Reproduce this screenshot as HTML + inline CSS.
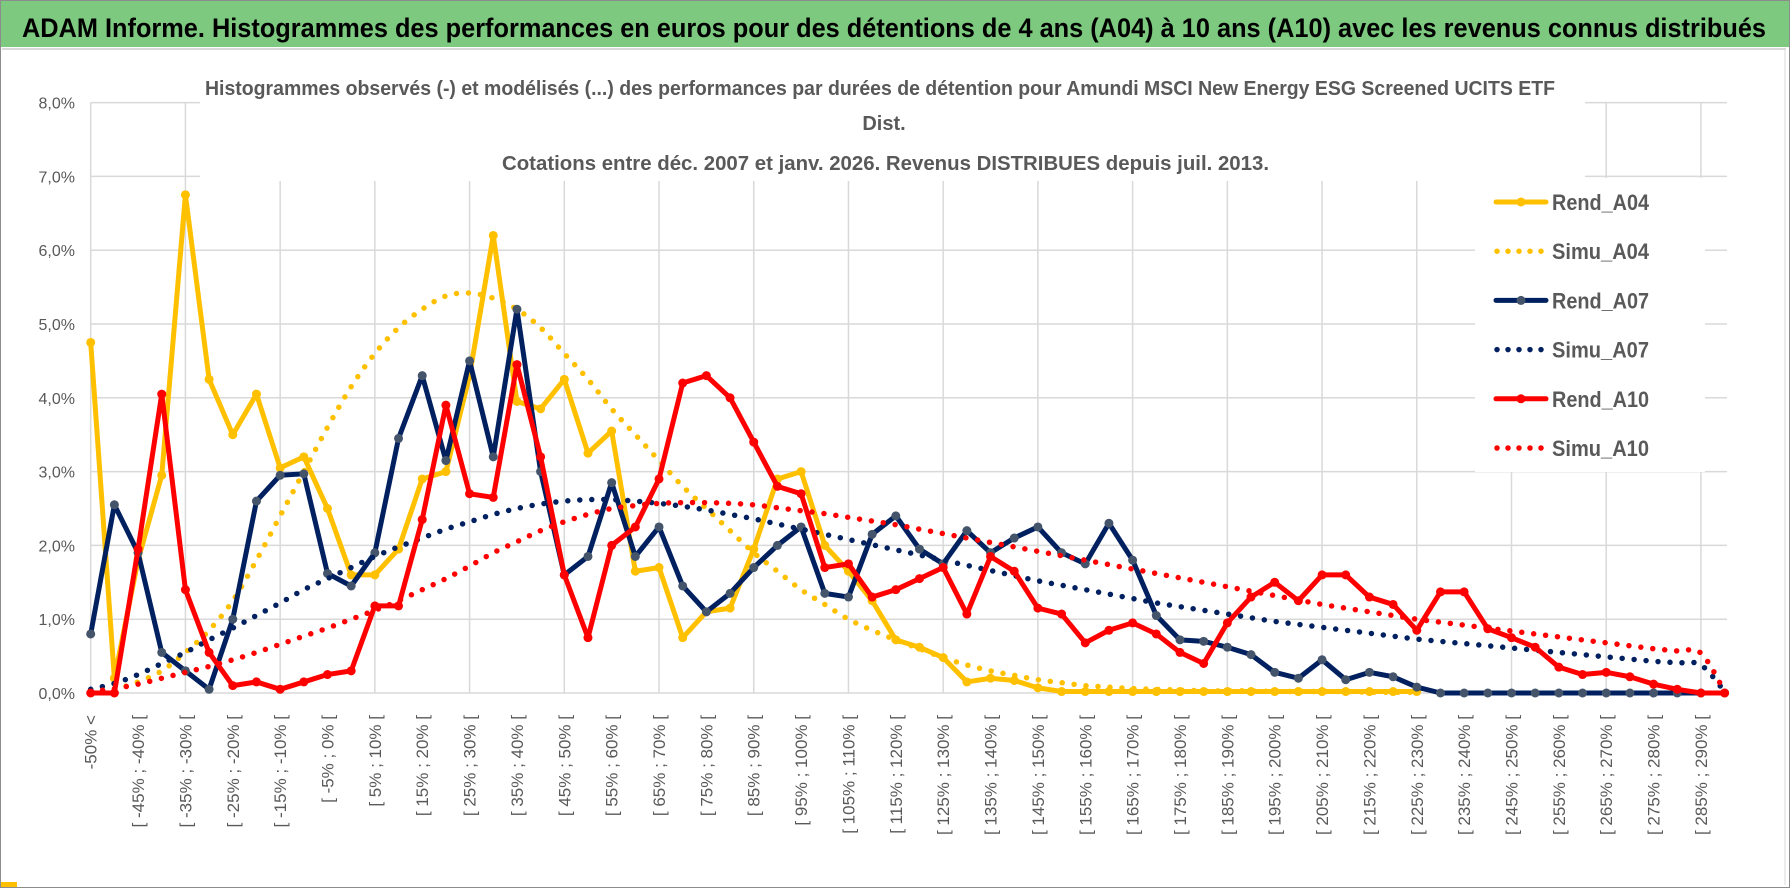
<!DOCTYPE html>
<html><head><meta charset="utf-8"><title>ADAM Informe – histogrammes</title>
<style>
html,body{margin:0;padding:0;background:#fff;}
svg{display:block;font-family:"Liberation Sans",Arial,sans-serif;}
</style></head>
<body>
<svg id="chart" width="1790" height="888" viewBox="0 0 1790 888" xmlns="http://www.w3.org/2000/svg">
  <rect x="0.5" y="0.5" width="1789" height="887" fill="#fff" stroke="#8c8c8c"/>
  <rect x="1" y="1" width="1788" height="46" fill="#7dc97f"/>
  <text x="22" y="37" font-size="27" font-weight="bold" fill="#000" textLength="1744" lengthAdjust="spacingAndGlyphs">ADAM Informe. Histogrammes des performances en euros pour des détentions de 4 ans (A04) à 10 ans (A10) avec les revenus connus distribués</text>
  <line x1="2" y1="49" x2="1786" y2="49" stroke="#d9d9d9" stroke-width="2"/>
  <line x1="1785" y1="49" x2="1785" y2="885" stroke="#d9d9d9" stroke-width="1"/>
  <rect x="1" y="882" width="16" height="5" fill="#ffc000"/>
  <g id="grid"></g>
  <g id="yaxis"></g>
  <g id="xaxis"></g>
  <rect x="200" y="55" width="1385" height="126" fill="#fff"/>
  <text x="205" y="95" font-size="20" font-weight="bold" fill="#595959" textLength="1350" lengthAdjust="spacingAndGlyphs">Histogrammes observés (-) et modélisés (...) des performances par durées de détention pour Amundi MSCI New Energy ESG Screened UCITS ETF</text>
  <text x="884" y="130" font-size="20" font-weight="bold" fill="#595959" text-anchor="middle">Dist.</text>
  <text x="502" y="170" font-size="20" font-weight="bold" fill="#595959" textLength="767" lengthAdjust="spacingAndGlyphs">Cotations entre déc. 2007 et janv. 2026. Revenus DISTRIBUES depuis juil. 2013.</text>
  <g id="series"></g>
  <rect x="1475" y="178" width="230" height="294" fill="#fff"/>
  <g id="legend"></g>
</svg>
<script>
const categories = ["-50% <","[ -50% ; -45% [","[ -45% ; -40% [","[ -40% ; -35% [","[ -35% ; -30% [","[ -30% ; -25% [","[ -25% ; -20% [","[ -20% ; -15% [","[ -15% ; -10% [","[ -10% ; -5% [","[ -5% ; 0% [","[ 0% ; 5% [","[ 5% ; 10% [","[ 10% ; 15% [","[ 15% ; 20% [","[ 20% ; 25% [","[ 25% ; 30% [","[ 30% ; 35% [","[ 35% ; 40% [","[ 40% ; 45% [","[ 45% ; 50% [","[ 50% ; 55% [","[ 55% ; 60% [","[ 60% ; 65% [","[ 65% ; 70% [","[ 70% ; 75% [","[ 75% ; 80% [","[ 80% ; 85% [","[ 85% ; 90% [","[ 90% ; 95% [","[ 95% ; 100% [","[ 100% ; 105% [","[ 105% ; 110% [","[ 110% ; 115% [","[ 115% ; 120% [","[ 120% ; 125% [","[ 125% ; 130% [","[ 130% ; 135% [","[ 135% ; 140% [","[ 140% ; 145% [","[ 145% ; 150% [","[ 150% ; 155% [","[ 155% ; 160% [","[ 160% ; 165% [","[ 165% ; 170% [","[ 170% ; 175% [","[ 175% ; 180% [","[ 180% ; 185% [","[ 185% ; 190% [","[ 190% ; 195% [","[ 195% ; 200% [","[ 200% ; 205% [","[ 205% ; 210% [","[ 210% ; 215% [","[ 215% ; 220% [","[ 220% ; 225% [","[ 225% ; 230% [","[ 230% ; 235% [","[ 235% ; 240% [","[ 240% ; 245% [","[ 245% ; 250% [","[ 250% ; 255% [","[ 255% ; 260% [","[ 260% ; 265% [","[ 265% ; 270% [","[ 270% ; 275% [","[ 275% ; 280% [","[ 280% ; 285% [","[ 285% ; 290% [","[ 290% ; 295% ["];
const yTicks = [0,1,2,3,4,5,6,7,8];
const yTickLabels = ["0,0%","1,0%","2,0%","3,0%","4,0%","5,0%","6,0%","7,0%","8,0%"];
const rendA04 = [4.75,0.2,1.8,2.95,6.75,4.25,3.5,4.05,3.05,3.2,2.5,1.6,1.6,1.95,2.9,3.0,4.3,6.2,3.95,3.85,4.25,3.25,3.55,1.65,1.7,0.75,1.1,1.15,1.95,2.9,3.0,2.0,1.65,1.25,0.72,0.62,0.48,0.15,0.2,0.17,0.07,0.02,0.02,0.02,0.02,0.02,0.02,0.02,0.02,0.02,0.02,0.02,0.02,0.02,0.02,0.02,0.02];
const simuA04 = [0.0,0.05,0.15,0.3,0.55,0.85,1.25,1.8,2.4,3.0,3.6,4.15,4.6,4.95,5.2,5.38,5.42,5.35,5.2,4.95,4.6,4.25,3.85,3.5,3.15,2.8,2.5,2.2,1.9,1.65,1.4,1.2,1.0,0.85,0.72,0.6,0.48,0.38,0.3,0.24,0.18,0.14,0.1,0.08,0.06,0.05,0.04,0.03,0.03,0.03,0.02,0.02,0.02,0.02,0.01,0.01,0.01];
const rendA07 = [0.8,2.55,1.9,0.55,0.3,0.05,1.0,2.6,2.95,2.97,1.62,1.45,1.9,3.45,4.3,3.15,4.5,3.2,5.2,3.0,1.6,1.85,2.85,1.85,2.25,1.45,1.1,1.35,1.7,2.0,2.25,1.35,1.3,2.15,2.4,1.95,1.75,2.2,1.9,2.1,2.25,1.9,1.75,2.3,1.8,1.05,0.72,0.7,0.62,0.52,0.28,0.2,0.45,0.18,0.28,0.22,0.08,0,0,0,0,0,0,0,0,0,0,0,0,0];
const simuA07 = [0.05,0.13,0.25,0.4,0.55,0.72,0.88,1.05,1.22,1.4,1.55,1.7,1.85,1.98,2.1,2.22,2.32,2.42,2.5,2.56,2.6,2.62,2.62,2.6,2.57,2.53,2.48,2.42,2.36,2.29,2.22,2.15,2.08,2.01,1.94,1.87,1.8,1.73,1.66,1.59,1.52,1.46,1.4,1.34,1.28,1.22,1.17,1.12,1.07,1.02,0.97,0.93,0.89,0.85,0.81,0.77,0.73,0.7,0.67,0.64,0.61,0.58,0.55,0.52,0.49,0.46,0.43,0.41,0.38,0.02];
const rendA10 = [0,0,1.95,4.05,1.4,0.55,0.1,0.15,0.05,0.15,0.25,0.3,1.18,1.18,2.35,3.9,2.7,2.65,4.45,3.2,1.6,0.75,2.0,2.25,2.9,4.2,4.3,4.0,3.4,2.8,2.7,1.7,1.75,1.3,1.4,1.55,1.7,1.07,1.85,1.65,1.15,1.07,0.68,0.85,0.95,0.8,0.55,0.4,0.95,1.3,1.5,1.25,1.6,1.6,1.3,1.2,0.85,1.37,1.37,0.87,0.75,0.62,0.35,0.25,0.28,0.22,0.12,0.05,0,0];
const simuA10 = [0.02,0.06,0.12,0.2,0.28,0.36,0.45,0.55,0.66,0.77,0.88,1.0,1.12,1.25,1.4,1.55,1.72,1.9,2.05,2.2,2.32,2.42,2.5,2.54,2.57,2.58,2.58,2.57,2.55,2.51,2.47,2.43,2.38,2.33,2.28,2.22,2.16,2.1,2.04,1.98,1.92,1.86,1.8,1.74,1.68,1.62,1.56,1.5,1.44,1.38,1.32,1.26,1.2,1.15,1.1,1.05,1.0,0.96,0.92,0.88,0.84,0.8,0.76,0.72,0.68,0.64,0.6,0.57,0.54,0.02];
const seriesNames = ["Rend_A04","Simu_A04","Rend_A07","Simu_A07","Rend_A10","Simu_A10"];

const NS = "http://www.w3.org/2000/svg";
const X0 = 90.7, STEP = 23.68, Y0 = 693, PER = 73.8, XR = 1727;
function xs(i){ return X0 + i*STEP; }
function ys(v){ return Y0 - v*PER; }
function mk(tag, attrs, parent){ const e=document.createElementNS(NS,tag); for(const k in attrs) e.setAttribute(k,attrs[k]); parent.appendChild(e); return e; }

const grid = document.getElementById('grid');
yTicks.forEach(function(t){
  const l = mk('line',{x1:X0,x2:XR,y1:ys(t),y2:ys(t),stroke:'#d9d9d9','stroke-width':1.5},grid);
  
  
});
categories.forEach(function(c,i){
  if(i%4===0){
    const l = mk('line',{x1:xs(i),x2:xs(i),y1:ys(8),y2:Y0,stroke:'#d9d9d9','stroke-width':1.5},grid);
    
    
  }
});
const yaxis = document.getElementById('yaxis');
yTicks.forEach(function(t,i){
  const tx = mk('text',{x:75,y:ys(t)+6,'text-anchor':'end','font-size':16,fill:'#595959'},yaxis);
  tx.textContent = yTickLabels[i];
  
  
});
const xaxis = document.getElementById('xaxis');
categories.forEach(function(c,i){
  if(i%2!==0) return;
  const x = xs(i)+6, y = 715;
  const tx = mk('text',{x:x,y:y,'text-anchor':'end','font-size':17,fill:'#595959',transform:'rotate(-90 '+x+' '+y+')'},xaxis);
  tx.textContent = c;
  
  
});

function smoothPath(pts){
  let d = 'M'+pts[0][0]+','+pts[0][1];
  for(let i=0;i<pts.length-1;i++){
    const p0=pts[Math.max(0,i-1)], p1=pts[i], p2=pts[i+1], p3=pts[Math.min(pts.length-1,i+2)];
    const c1x=p1[0]+(p2[0]-p0[0])/6, c1y=p1[1]+(p2[1]-p0[1])/6;
    const c2x=p2[0]-(p3[0]-p1[0])/6, c2y=p2[1]-(p3[1]-p1[1])/6;
    d += ' C'+c1x+','+c1y+' '+c2x+','+c2y+' '+p2[0]+','+p2[1];
  }
  return d;
}
const layer = document.getElementById('series');
function drawRend(data, color, markerColor, name){
  const g = mk('g',{},layer);
  
  
  const pts = data.map(function(v,i){ return [xs(i),ys(v)]; });
  const pl = mk('polyline',{points:pts.map(function(p){return p.join(',');}).join(' '),fill:'none',stroke:color,'stroke-width':5,'stroke-linejoin':'round','stroke-linecap':'round'},g);
  
  
  pts.forEach(function(p){
    const c = mk('circle',{cx:p[0],cy:p[1],r:4.5,fill:markerColor},g);
    
    
  });
}
function drawSimu(data, color, name){
  const pts = data.map(function(v,i){ return [xs(i),ys(v)]; });
  const p = mk('path',{d:smoothPath(pts),fill:'none',stroke:color,'stroke-width':5.5,'stroke-linecap':'round','stroke-dasharray':'0 12'},layer);
  
  
}
drawRend(rendA04,'#ffc000','#ffc000','rend-a04');
drawSimu(simuA04,'#ffc000','simu-a04');
drawRend(rendA07,'#002060','#44546a','rend-a07');
drawSimu(simuA07,'#002060','simu-a07');
drawRend(rendA10,'#ff0000','#ff0000','rend-a10');
drawSimu(simuA10,'#ff0000','simu-a10');

const legend = document.getElementById('legend');
const legColors = ['#ffc000','#ffc000','#002060','#002060','#ff0000','#ff0000'];
const legMarkers = ['#ffc000',null,'#44546a',null,'#ff0000',null];
seriesNames.forEach(function(n,i){
  const cy = 202 + i*49.2;
  const g = mk('g',{},legend);
  
  
  if(legMarkers[i]){
    mk('line',{x1:1496,x2:1546,y1:cy,y2:cy,stroke:legColors[i],'stroke-width':5,'stroke-linecap':'round'},g);
    mk('circle',{cx:1521,cy:cy,r:4.5,fill:legMarkers[i]},g);
  } else {
    mk('line',{x1:1497,x2:1546,y1:cy,y2:cy,stroke:legColors[i],'stroke-width':5.5,'stroke-linecap':'round','stroke-dasharray':'0 11'},g);
  }
  const t = mk('text',{x:1552,y:cy+8,'font-size':22,'font-weight':'bold',fill:'#595959',textLength:97,lengthAdjust:'spacingAndGlyphs'},g);
  t.textContent = n;
  
  
});
</script>
</body></html>
